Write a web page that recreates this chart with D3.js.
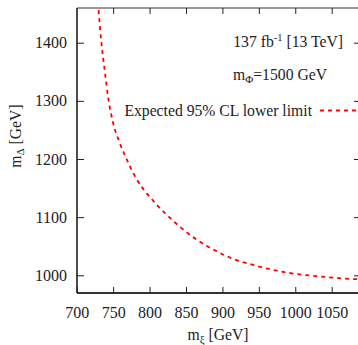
<!DOCTYPE html>
<html>
<head>
<meta charset="utf-8">
<script src="https://cdn.jsdelivr.net/npm/d3@7"></script>
<style>
  body { margin: 0; background: #fff; }
  svg { display: block; }
  text { font-family: "Liberation Serif", "DejaVu Serif", serif; fill: #222; }
</style>
</head>
<body>
<svg id="chart" width="358" height="345"></svg>
<script>
// expected limit curve
var mXi    = [730, 734, 739, 743, 750, 759, 771, 782, 791, 801, 810, 821, 833, 842, 865, 888, 915, 942, 970, 997, 1025, 1052, 1080, 1095];
var mDelta = [1456, 1399, 1347, 1307, 1262, 1228, 1193, 1166, 1149, 1134, 1121, 1107, 1093, 1083, 1061, 1044, 1028, 1018, 1009, 1003, 999, 996, 993.5, 993];

var xTicks = [700, 750, 800, 850, 900, 950, 1000, 1050];
var yTicks = [1000, 1100, 1200, 1300, 1400];

var lumiText = "137 fb";
var massText = "=1500 GeV";
var legendText = "Expected 95% CL lower limit";

var svg = d3.select("#chart");

var x = d3.scaleLinear().domain([700, 1050]).range([76.7, 331.7]);
var y = d3.scaleLinear().domain([1000, 1400]).range([275.3, 42.7]);

var pL = 77, pR = 360, pT = 8, pB = 293;
var serif = "Liberation Serif, DejaVu Serif, serif";

// clip for the curve
svg.append("clipPath").attr("id", "plotclip")
  .append("rect").attr("x", pL).attr("y", pT).attr("width", pR - pL).attr("height", pB - pT);

var line = d3.line()
  .curve(d3.curveMonotoneX)
  .x(function(d, i) { return x(mXi[i]); })
  .y(function(d, i) { return y(mDelta[i]); });

svg.append("path")
  .datum(mXi)
  .attr("clip-path", "url(#plotclip)")
  .attr("d", line)
  .attr("fill", "none")
  .attr("stroke", "#f00")
  .attr("stroke-width", 1.8)
  .attr("stroke-dasharray", "4,4");

// frame
svg.append("line").attr("x1", pL).attr("x2", pR).attr("y1", pT).attr("y2", pT)
  .attr("stroke", "#777").attr("stroke-width", 1.5);
svg.append("line").attr("x1", pL).attr("x2", pR).attr("y1", pB).attr("y2", pB)
  .attr("stroke", "#333").attr("stroke-width", 2);
svg.append("line").attr("x1", pL).attr("x2", pL).attr("y1", pT).attr("y2", pB)
  .attr("stroke", "#111").attr("stroke-width", 1.5);

// bottom axis (ticks inward)
var xAxis = d3.axisBottom(x).tickValues(xTicks).tickSize(-6).tickPadding(14).tickFormat(d3.format("d"));
var gx = svg.append("g").attr("transform", "translate(0," + pB + ")").call(xAxis).attr("font-family", serif);
gx.select(".domain").remove();
gx.selectAll(".tick line").attr("stroke", "#222");
gx.selectAll("text").style("font-size", "16px").attr("fill", "#222");

// top ticks
var gxt = svg.append("g").attr("transform", "translate(0," + pT + ")")
  .call(d3.axisTop(x).tickValues(xTicks.slice(1)).tickSize(-6).tickFormat(""));
gxt.select(".domain").remove();
gxt.selectAll(".tick line").attr("stroke", "#222");

// left axis
var yAxis = d3.axisLeft(y).tickValues(yTicks).tickSize(-7).tickPadding(10).tickFormat(d3.format("d"));
var gy = svg.append("g").attr("transform", "translate(" + pL + ",0)").call(yAxis).attr("font-family", serif);
gy.select(".domain").remove();
gy.selectAll(".tick line").attr("stroke", "#222");
gy.selectAll("text").style("font-size", "16px").attr("fill", "#222");

// right ticks
var gyr = svg.append("g").attr("transform", "translate(" + pR + ",0)")
  .call(d3.axisRight(y).tickValues(yTicks).tickSize(-6).tickFormat(""));
gyr.select(".domain").remove();
gyr.selectAll(".tick line").attr("stroke", "#222");

// axis titles
var xt = svg.append("text").attr("x", 218).attr("y", 340).attr("text-anchor", "middle").style("font-size", "15.7px");
xt.append("tspan").text("m");
xt.append("tspan").attr("dy", 3).style("font-size", "11px").text("ξ");
xt.append("tspan").attr("dy", -3).text(" [GeV]");

var yt = svg.append("text").attr("transform", "translate(21,136) rotate(-90)").attr("text-anchor", "middle").style("font-size", "15.7px");
yt.append("tspan").text("m");
yt.append("tspan").attr("dy", 3).style("font-size", "11px").text("Δ");
yt.append("tspan").attr("dy", -3).text(" [GeV]");

// annotations
var t1 = svg.append("text").attr("x", 343).attr("y", 47).attr("text-anchor", "end").style("font-size", "15.7px");
t1.append("tspan").text(lumiText);
t1.append("tspan").attr("dy", -6).style("font-size", "10.5px").text("-1");
t1.append("tspan").attr("dy", 6).text(" [13 TeV]");

var t2 = svg.append("text").attr("x", 233).attr("y", 80).style("font-size", "15.7px");
t2.append("tspan").text("m");
t2.append("tspan").attr("dy", 3).style("font-size", "11px").text("Φ");
t2.append("tspan").attr("dy", -3).text(massText);

svg.append("text").attr("x", 312).attr("y", 116).attr("text-anchor", "end").style("font-size", "15.7px").text(legendText);
svg.append("line").attr("x1", 320).attr("x2", 362).attr("y1", 110.5).attr("y2", 110.5)
  .attr("stroke", "#f00").attr("stroke-width", 1.8).attr("stroke-dasharray", "4,4");
</script>
</body>
</html>
